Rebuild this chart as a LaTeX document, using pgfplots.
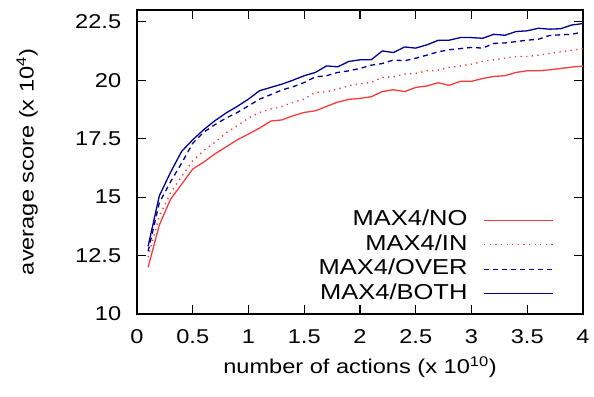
\documentclass[border=0pt]{standalone}
\usepackage{pgfplots}
\pgfplotsset{compat=1.18}
\usepackage{fontspec}
\setmainfont[FakeStretch=1.18]{Liberation Sans}
\definecolor{cred}{RGB}{245,60,60}
\definecolor{cblue}{RGB}{0,0,140}
\begin{document}
\fontsize{20bp}{24bp}\selectfont
\begin{tikzpicture}
\useasboundingbox (-137bp,-83bp) rectangle (457bp,314bp);
\begin{axis}[
  scale only axis, width=446bp, height=304bp,
  xmin=0, xmax=4, ymin=10, ymax=23,
  xtick={0,0.5,...,4}, ytick={10,12.5,15,17.5,20,22.5},
  /pgf/number format/assume math mode=true,
  tick align=inside, major tick length=9bp,
  axis line style={line width=1.2bp}, every tick/.style={line width=1.1bp, black},
  x tick label style={yshift=-9bp},
  y tick label style={xshift=-9bp},
  xlabel={number of actions (x 10\textsuperscript{10})},
  ylabel={average score (x 10\textsuperscript{4})},
  xlabel style={at={(axis description cs:0.5,-0.197)}, anchor=base},
  ylabel style={at={(axis description cs:-0.232,0.5)}, anchor=base, rotate=0},
  legend plot pos=right,
  legend cell align=right,
  legend style={draw=none, fill=none, at={(axis description cs:0.935,0.3414)}, anchor=north east,
    inner sep=0pt, row sep=5bp, column sep=16bp,
    font=\fontsize{21.6bp}{26bp}\selectfont,
    nodes={inner sep=0pt, text height=15.5bp, text depth=4bp}},
  legend image code/.code={\draw[#1] (0bp,0bp) -- (69bp,0bp);},
]
\addplot[cred, line width=1.3bp] coordinates {
(0.1,12.0)(0.2,13.8)(0.3,14.9)(0.4,15.55)(0.5,16.2)(0.6,16.5)(0.7,16.85)(0.8,17.15)(0.9,17.45)(1.0,17.7)
(1.1,17.95)(1.2,18.25)(1.3,18.3)(1.4,18.48)(1.5,18.62)(1.6,18.69)(1.7,18.88)(1.8,19.06)(1.9,19.18)(2.0,19.22)
(2.1,19.29)(2.2,19.51)(2.3,19.59)(2.4,19.51)(2.5,19.69)(2.6,19.75)(2.7,19.89)(2.8,19.78)(2.9,19.95)(3.0,19.95)
(3.1,20.07)(3.2,20.16)(3.3,20.19)(3.4,20.33)(3.5,20.40)(3.6,20.40)(3.7,20.44)(3.8,20.50)(3.9,20.56)(4.0,20.60)
};
\addlegendentry{MAX4/NO}
\addplot[cred, line width=1.4bp, dash pattern=on 1.3bp off 4.3bp] coordinates {
(0.1,12.43)(0.2,14.18)(0.3,15.17)(0.4,15.88)(0.5,16.55)(0.6,17.0)(0.7,17.35)(0.8,17.75)(0.9,18.05)(1.0,18.38)
(1.1,18.62)(1.2,18.77)(1.3,18.87)(1.4,19.05)(1.5,19.19)(1.6,19.48)(1.7,19.50)(1.8,19.62)(1.9,19.76)(2.0,19.84)
(2.1,19.90)(2.2,20.12)(2.3,20.14)(2.4,20.26)(2.5,20.29)(2.6,20.40)(2.7,20.42)(2.8,20.54)(2.9,20.61)(3.0,20.68)
(3.1,20.80)(3.2,20.87)(3.3,20.94)(3.4,21.01)(3.5,21.01)(3.6,21.07)(3.7,21.14)(3.8,21.21)(3.9,21.28)(4.0,21.35)
};
\addlegendentry{MAX4/IN}
\addplot[cblue, line width=1.3bp, dash pattern=on 5bp off 4bp] coordinates {
(0.1,12.68)(0.2,14.75)(0.3,15.65)(0.4,16.45)(0.5,17.3)(0.6,17.78)(0.7,18.1)(0.8,18.38)(0.9,18.62)(1.0,18.9)
(1.1,19.19)(1.2,19.38)(1.3,19.58)(1.4,19.72)(1.5,19.90)(1.6,20.14)(1.7,20.19)(1.8,20.33)(1.9,20.40)(2.0,20.50)
(2.1,20.64)(2.2,20.71)(2.3,20.86)(2.4,20.83)(2.5,20.94)(2.6,21.07)(2.7,21.21)(2.8,21.30)(2.9,21.35)(3.0,21.40)
(3.1,21.37)(3.2,21.57)(3.3,21.59)(3.4,21.65)(3.5,21.71)(3.6,21.75)(3.7,21.91)(3.8,21.94)(3.9,21.96)(4.0,22.06)
};
\addlegendentry{MAX4/OVER}
\addplot[cblue, line width=1.3bp] coordinates {
(0.1,12.9)(0.2,15.05)(0.3,16.05)(0.4,16.95)(0.5,17.45)(0.6,17.89)(0.7,18.27)(0.8,18.60)(0.9,18.88)(1.0,19.19)
(1.1,19.55)(1.2,19.69)(1.3,19.83)(1.4,20.00)(1.5,20.19)(1.6,20.33)(1.7,20.61)(1.8,20.57)(1.9,20.80)(2.0,20.87)
(2.1,20.87)(2.2,21.25)(2.3,21.18)(2.4,21.42)(2.5,21.37)(2.6,21.51)(2.7,21.70)(2.8,21.71)(2.9,21.82)(3.0,21.82)
(3.1,21.79)(3.2,21.96)(3.3,21.92)(3.4,22.08)(3.5,22.11)(3.6,22.22)(3.7,22.18)(3.8,22.20)(3.9,22.36)(4.0,22.42)
};
\addlegendentry{MAX4/BOTH}
\end{axis}
\end{tikzpicture}
\end{document}
